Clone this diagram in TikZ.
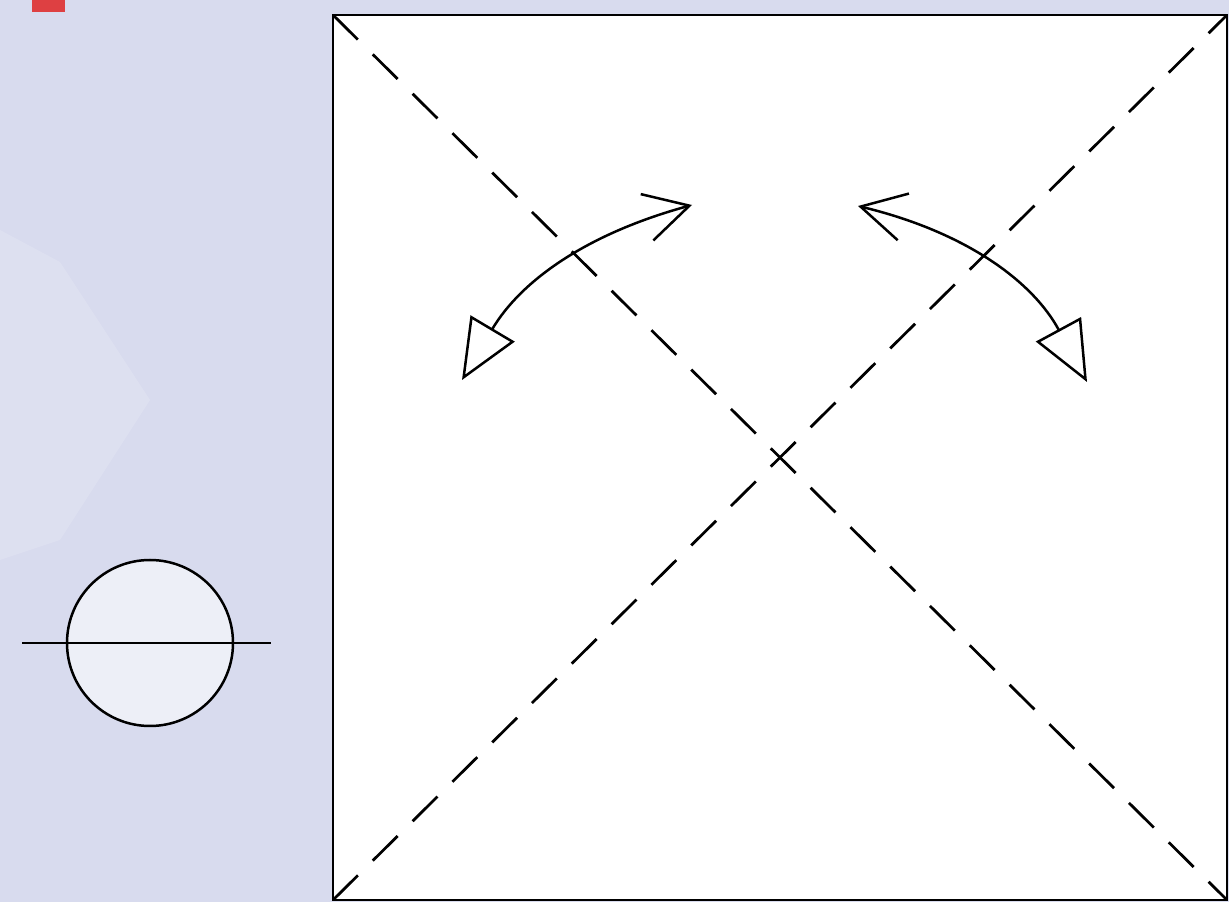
\documentclass[tikz,border=0pt]{standalone}
\definecolor{paper}{RGB}{216, 219, 238}
\definecolor{marker}{RGB}{222, 64, 66}
\usepackage{tikz}
\usetikzlibrary{arrows.meta, positioning}

\tikzset{
    fold/.style={line width=0.55mm, dash pattern=on 7mm off 4.2mm},
    turn/.style={line width=0.5mm, bend left=#1},
    sheet/.style={draw, line width=0.55mm, fill=white}
}

\begin{document}
\begin{tikzpicture}[x=0.2mm, y=0.2mm]
        % page background
        \fill[paper] (0,0) rectangle (1229,902);
        \useasboundingbox (0,0) rectangle (1229,902);
        \fill[white, opacity=0.15] (0,672) -- (60,640) -- (150,502) -- (60,362) -- (0,342) -- cycle;
        \fill[marker] (32,890) rectangle (65,902);

        % symbol on the left
        \node[circle, draw, line width=0.5mm, fill=white!55!paper, minimum size=166*0.2mm, inner sep=0pt] (disc) at (150,259) {};
        \coordinate (axisW) at (22,259);
        \coordinate (axisE) at (271,259);
        \draw[line width=0.5mm] (axisW) -- (axisE);

        % square sheet with the two diagonals
        \coordinate (sqSW) at (333,2);
        \coordinate (sqNE) at (1227,887);
        \coordinate (sqNW) at (333,887);
        \coordinate (sqSE) at (1227,2);
        \draw[sheet] (sqSW) rectangle (sqNE);
        \draw[fold] (sqNW) -- (sqSE);
        \draw[fold] (sqSW) -- (sqNE);

        % fold and unfold arrows
        \coordinate (leftFrom) at (462,522);
        \coordinate (leftTo) at (692,697);
        \coordinate (rightFrom) at (858,696);
        \coordinate (rightTo) at (1087,520);
        \draw[turn=22, {Triangle[open, length=12mm, width=10.2mm]}-{Straight Barb[length=8.8mm, width=9.6mm]}]
            (leftFrom) to (leftTo);
        \draw[turn=24, {Straight Barb[length=8.8mm, width=9.6mm]}-{Triangle[open, length=12mm, width=10.2mm]}]
            (rightFrom) to (rightTo);
    \end{tikzpicture}
\end{document}
